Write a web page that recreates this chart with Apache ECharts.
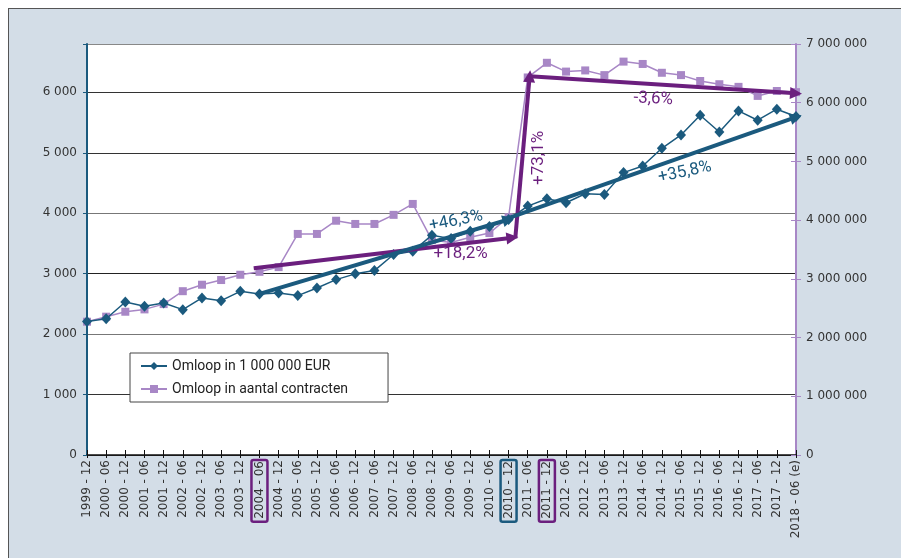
<!DOCTYPE html>
<html>
<head>
<meta charset="utf-8">
<script src="https://cdn.jsdelivr.net/npm/echarts@6/dist/echarts.min.js"></script>
<style>
html, body { margin: 0; padding: 0; background: #fff; }
#frame { position: absolute; left: 8px; top: 8px; width: 900px; height: 560px;
         background: #d3dde7; border-left: 1.5px solid #555; border-top: 1.5px solid #555; }
#chart { position: absolute; left: 0; top: 0; width: 901px; height: 558px; }
</style>
</head>
<body>
<div id="frame"></div>
<div id="chart"></div>
<script>
// Half-year periods on the x axis
const periods = [
  '1999 - 12', '2000 - 06', '2000 - 12', '2001 - 06', '2001 - 12', '2002 - 06', '2002 - 12',
  '2003 - 06', '2003 - 12', '2004 - 06', '2004 - 12', '2005 - 06', '2005 - 12', '2006 - 06',
  '2006 - 12', '2007 - 06', '2007 - 12', '2008 - 06', '2008 - 12', '2009 - 06', '2009 - 12',
  '2010 - 06', '2010 - 12', '2011 - 06', '2011 - 12', '2012 - 06', '2012 - 12', '2013 - 06',
  '2013 - 12', '2014 - 06', '2014 - 12', '2015 - 06', '2015 - 12', '2016 - 06', '2016 - 12',
  '2017 - 06', '2017 - 12', '2018 - 06 (e)'
];

// Turnover in 1 000 000 EUR (left axis)
const turnoverEur = [
  2210, 2255, 2532, 2460, 2515, 2405, 2598, 2554, 2708, 2665, 2681, 2637, 2764,
  2902, 2997, 3051, 3317, 3371, 3637, 3580, 3703, 3780, 3897, 4118, 4240, 4174,
  4323, 4312, 4672, 4781, 5075, 5295, 5622, 5345, 5693, 5539, 5721, 5600
];

// Turnover in number of contracts (right axis)
const turnoverContracts = [
  2270000, 2356000, 2440000, 2480000, 2570000, 2790000, 2900000, 2980000, 3070000,
  3120000, 3200000, 3765000, 3765000, 3990000, 3935000, 3935000, 4090000, 4276000,
  3660000, 3620000, 3710000, 3780000, 4050000, 6430000, 6680000, 6530000, 6550000,
  6470000, 6700000, 6660000, 6510000, 6470000, 6370000, 6315000, 6270000, 6116000,
  6200000, 6180000
];

const seriesNames = ['Omloop in 1 000 000 EUR', 'Omloop in aantal contracten'];

// Trend arrows, [period index, value]
const eurArrows = [
  { from: [9, 2665], to: [22, 3897] },
  { from: [22.1, 3930], to: [37, 5590] }
];
const contractArrows = [
  { from: [8.7, 3180000], to: [22.2, 3700000] },
  { from: [22.35, 3690000], to: [23.1, 6450000] },
  { from: [23.1, 6450000], to: [37, 6160000] }
];

// Percentage change labels
const eurChanges = [
  { text: '+46,3%', at: [19.26, 3872], rotate: 11 },
  { text: '+35,8%', at: [31.2, 4680], rotate: 12 }
];
const contractChanges = [
  { text: '+18,2%', at: [19.5, 3420000], rotate: 0 },
  { text: '+73,1%', at: [23.55, 5060000], rotate: 90 },
  { text: '-3,6%', at: [29.55, 6064000], rotate: -3 }
];

// Periods framed on the x axis
const framedPeriods = { '2004 - 06': 'violet', '2010 - 12': 'teal', '2011 - 12': 'violet' };

const BLUE = '#1b5a7e';
const LILAC = '#a887c6';
const PLUM = '#6b1f7e';
const AXIS_FONT = 'DejaVu Sans';
const TEXT_FONT = 'Roboto';

const spaced = v => String(v).replace(/\B(?=(\d{3})+(?!\d))/g, ' ');

const arrowLines = list => list.map(a => [{ coord: a.from }, { coord: a.to }]);
const changePoints = list => list.map(l => ({
  coord: l.at,
  label: { formatter: l.text, rotate: l.rotate }
}));

const chart = echarts.init(document.getElementById('chart'), null, { renderer: 'canvas' });

const plotBox = { left: 87, right: 105, top: 44, bottom: 103 };
const lastIndex = periods.length - 1;

const option = {
  animation: false,
  textStyle: { fontFamily: AXIS_FONT },
  grid: [
    Object.assign({ show: true, backgroundColor: '#fff', borderWidth: 0 }, plotBox),
    // second layer carrying the inward half of the crossing tick marks
    Object.assign({ show: false }, plotBox)
  ],
  legend: {
    data: seriesNames,
    orient: 'vertical',
    left: 130, top: 353,
    itemWidth: 26, itemHeight: 10, itemGap: 9,
    padding: [6, 40, 6, 10],
    backgroundColor: '#fff',
    borderColor: '#444', borderWidth: 1,
    textStyle: { fontFamily: TEXT_FONT, fontSize: 14, color: '#222' }
  },
  xAxis: [
    {
      gridIndex: 0,
      type: 'value', min: 0, max: lastIndex, interval: 1, position: 'bottom',
      axisLine: { show: true, onZero: false, lineStyle: { color: '#111', width: 1.5 } },
      axisTick: { show: true, length: 3, lineStyle: { color: '#111' } },
      splitLine: { show: false },
      axisLabel: {
        rotate: 90, margin: 5, fontSize: 12, color: '#333', fontFamily: AXIS_FONT,
        formatter: v => {
          const p = periods[v];
          if (p === undefined) return '';
          return framedPeriods[p] ? `{${framedPeriods[p]}|${p}}` : p;
        },
        rich: {
          violet: { borderColor: PLUM, borderWidth: 2.5, borderRadius: 2, padding: [2, 1, 2, 3], fontSize: 12, color: '#333' },
          teal: { borderColor: BLUE, borderWidth: 2.5, borderRadius: 2, padding: [2, 1, 2, 3], fontSize: 12, color: '#333' }
        }
      }
    },
    {
      gridIndex: 1,
      type: 'value', min: 0, max: lastIndex, interval: 1, position: 'bottom',
      axisLine: { show: false, onZero: false },
      axisTick: { show: true, inside: true, length: 5, lineStyle: { color: '#111' } },
      axisLabel: { show: false },
      splitLine: { show: false }
    }
  ],
  yAxis: [
    {
      gridIndex: 0,
      type: 'value', min: 0, max: 6800, interval: 1000, position: 'left',
      axisLine: { show: true, lineStyle: { color: BLUE, width: 2 } },
      axisTick: { show: true, length: 4, lineStyle: { color: BLUE } },
      axisLabel: {
        margin: 10, fontSize: 12, color: '#333',
        formatter: v => (v % 1000 === 0 ? spaced(v) : '')
      },
      splitLine: {
        show: true,
        lineStyle: { color: ['#333', '#333', '#777', '#222', '#777', '#333', '#333', '#888'], width: 1.2 }
      }
    },
    {
      gridIndex: 0,
      type: 'value', min: 0, max: 7000000, interval: 1000000, position: 'right',
      axisLine: { show: true, lineStyle: { color: LILAC, width: 2 } },
      axisTick: { show: true, length: 5, lineStyle: { color: LILAC } },
      axisLabel: { margin: 10, fontSize: 12, color: '#333', formatter: v => spaced(v) },
      splitLine: { show: false }
    },
    {
      gridIndex: 1,
      type: 'value', min: 0, max: 7000000, interval: 1000000, position: 'right',
      axisLine: { show: false, onZero: false },
      axisTick: { show: true, inside: true, length: 5, lineStyle: { color: LILAC } },
      axisLabel: { show: false },
      splitLine: { show: false }
    }
  ],
  series: [
    {
      name: seriesNames[1],
      type: 'line',
      xAxisIndex: 0, yAxisIndex: 1,
      data: turnoverContracts.map((v, i) => [i, v]),
      symbol: 'rect', symbolSize: 8,
      itemStyle: { color: LILAC },
      lineStyle: { color: LILAC, width: 1.5 },
      z: 2,
      markLine: {
        silent: true, animation: false,
        symbol: ['none', 'triangle'], symbolSize: 12,
        label: { show: false },
        lineStyle: { color: PLUM, width: 4, type: 'solid' },
        itemStyle: { color: PLUM },
        emphasis: { disabled: true },
        data: arrowLines(contractArrows)
      },
      markPoint: {
        silent: true, animation: false,
        symbol: 'circle', symbolSize: 0,
        itemStyle: { color: 'transparent' },
        label: { show: true, position: 'inside', color: PLUM, fontSize: 17, fontFamily: TEXT_FONT },
        data: changePoints(contractChanges)
      }
    },
    {
      name: seriesNames[0],
      type: 'line',
      xAxisIndex: 0, yAxisIndex: 0,
      data: turnoverEur.map((v, i) => [i, v]),
      symbol: 'diamond', symbolSize: [10, 11],
      itemStyle: { color: BLUE },
      lineStyle: { color: BLUE, width: 1.5 },
      z: 3,
      markLine: {
        silent: true, animation: false,
        symbol: ['none', 'triangle'], symbolSize: 12,
        label: { show: false },
        lineStyle: { color: BLUE, width: 4, type: 'solid' },
        itemStyle: { color: BLUE },
        emphasis: { disabled: true },
        data: arrowLines(eurArrows)
      },
      markPoint: {
        silent: true, animation: false,
        symbol: 'circle', symbolSize: 0,
        itemStyle: { color: 'transparent' },
        label: { show: true, position: 'inside', color: BLUE, fontSize: 17, fontFamily: TEXT_FONT },
        data: changePoints(eurChanges)
      }
    }
  ]
};

chart.setOption(option);
</script>
</body>
</html>
